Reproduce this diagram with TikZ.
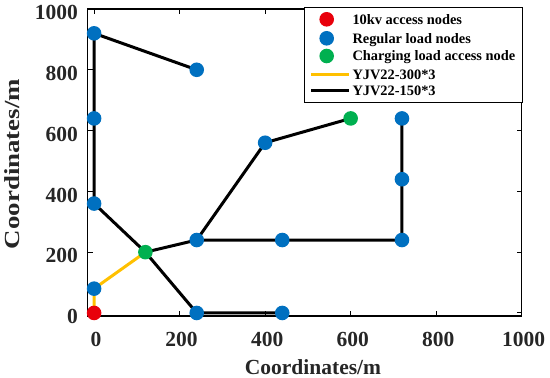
\documentclass[tikz,border=0pt]{standalone}
\usepackage{fontspec}
\setmainfont{Liberation Serif}
\usetikzlibrary{backgrounds}
\definecolor{mblue}{HTML}{0070C0}
\definecolor{mred}{HTML}{E8000B}
\definecolor{mgreen}{HTML}{00B050}
\definecolor{myellow}{HTML}{FFC000}
\definecolor{axc}{HTML}{262626}
\begin{document}
\begin{tikzpicture}[x=1pt,y=1pt,
  dot/.style={circle,inner sep=0pt,minimum size=14.6pt},
  bdot/.style={dot,fill=mblue},
  rdot/.style={dot,fill=mred},
  gdot/.style={dot,fill=mgreen},
  wire/.style={line width=3pt,black},
  feed/.style={line width=3pt,myellow},
  tickmark/.style={line width=1pt,black},
  ticklab/.style={font=\fontsize{21.5}{24}\selectfont\bfseries,text=axc,inner sep=0pt},
  axlab/.style={font=\fontsize{21.5}{24}\selectfont\bfseries,text=axc,inner sep=0pt},
  leglab/.style={font=\fontsize{14.4}{16}\selectfont\bfseries,anchor=base west,inner sep=0pt}]
\useasboundingbox (0,0) rectangle (550,378);
\begin{scope}[shift={(94.1pt,65.04pt)},x=0.42759pt,y=0.30396pt]
  % axes box
  \draw[line width=1.3pt,black] (-15,-10) rectangle (1000,1000);
  \foreach \m in {0,200,...,1000}{
    \draw[tickmark] (\m,-10) -- ++(0,5pt);
    \draw[tickmark] (\m,1000) -- ++(0,-5pt);
    \draw[tickmark] (-15,\m) -- ++(5pt,0);
    \draw[tickmark] (1000,\m) -- ++(-5pt,0);
    \path (\m,-10) ++(2pt,-23pt) node[ticklab] {\m};
    \path (-15,\m) ++(-9.7pt,-3.7pt) node[ticklab,anchor=east] {\m};
  }
  % nodes
  \node[rdot] (s)   at (0,0) {};
  \node[bdot] (a1)  at (0,80) {};
  \node[bdot] (a2)  at (0,360) {};
  \node[bdot] (a3)  at (0,640) {};
  \node[bdot] (a4)  at (0,920) {};
  \node[bdot] (a5)  at (240,800) {};
  \node[gdot] (g1)  at (120,200) {};
  \node[bdot] (b1)  at (240,240) {};
  \node[bdot] (b2)  at (440,240) {};
  \node[bdot] (b3)  at (720,240) {};
  \node[bdot] (b4)  at (720,440) {};
  \node[bdot] (b5)  at (720,640) {};
  \node[bdot] (c1)  at (400,560) {};
  \node[gdot] (g2)  at (600,640) {};
  \node[bdot] (d1)  at (240,0) {};
  \node[bdot] (d2)  at (440,0) {};
  \begin{scope}[on background layer]
    \draw[feed] (s.center) -- (a1.center) -- (g1.center);
    \draw[wire] (a5.center) -- (a4.center) -- (a3.center) -- (a2.center) -- (g1.center);
    \draw[wire] (g1.center) -- (d1.center) -- (d2.center);
    \draw[wire] (g1.center) -- (b1.center) -- (b2.center) -- (b3.center) -- (b4.center) -- (b5.center);
    \draw[wire] (b1.center) -- (c1.center) -- (g2.center);
  \end{scope}
\end{scope}
% axis labels
\node[axlab,anchor=base] (xl) at (313,3.7) {Coordinates/m};
\node[axlab,rotate=90,xscale=1.25] (yl) at (11.7,214) {Coordinates/m};
% legend
\node[draw=black,line width=1pt,fill=white,inner sep=0pt,minimum width=218.7pt,minimum height=95.4pt] (leg) at (413.35,323) {};
\node[rdot] (l1) at (326.7,358.7) {};
\node[bdot] (l2) at (326.7,339.7) {};
\node[gdot] (l3) at (326.7,322) {};
\coordinate (l4a) at (311,303);
\coordinate (l4b) at (349,303);
\coordinate (l5a) at (311,287.3);
\coordinate (l5b) at (349,287.3);
\draw[feed] (l4a) -- (l4b);
\draw[wire] (l5a) -- (l5b);
\node[leglab] (t1) at (352.3,353.9) {10kv access nodes};
\node[leglab] (t2) at (352.3,334.9) {Regular load nodes};
\node[leglab] (t3) at (352.3,317.2) {Charging load access node};
\node[leglab] (t4) at (352.3,298.2) {YJV22-300*3};
\node[leglab] (t5) at (352.3,282.5) {YJV22-150*3};
\end{tikzpicture}
\end{document}
